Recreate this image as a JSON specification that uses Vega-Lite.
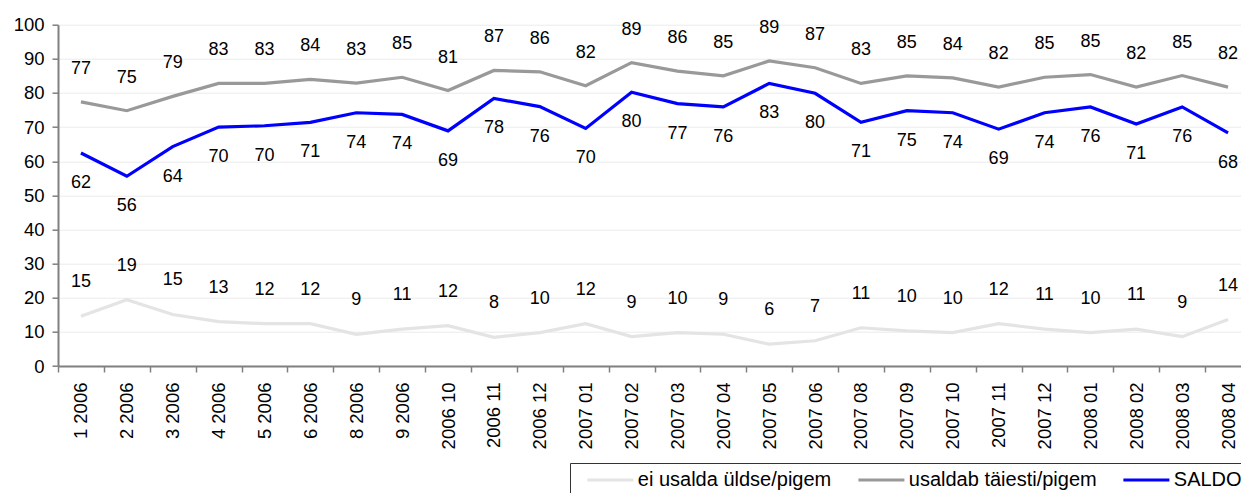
{
  "$schema": "https://vega.github.io/schema/vega-lite/v6.json",
  "width": 1183,
  "height": 341.3,
  "autosize": {"type": "none"},
  "padding": {"left": 58, "top": 24.7, "right": 0, "bottom": 127},
  "background": "white",
  "config": {
    "font": "Liberation Sans",
    "view": {"stroke": null},
    "text": {"font": "Liberation Sans", "fontSize": 18, "color": "#000000", "baseline": "middle", "align": "center"}
  },
  "data": {
    "values": [
      {"period": "1 2006", "ei usalda üldse/pigem": 14.6, "usaldab täiesti/pigem": 77.4, "SALDO": 62.4},
      {"period": "2 2006", "ei usalda üldse/pigem": 19.4, "usaldab täiesti/pigem": 74.8, "SALDO": 55.6},
      {"period": "3 2006", "ei usalda üldse/pigem": 15.1, "usaldab täiesti/pigem": 79.0, "SALDO": 64.3},
      {"period": "4 2006", "ei usalda üldse/pigem": 13.0, "usaldab täiesti/pigem": 82.8, "SALDO": 70.0},
      {"period": "5 2006", "ei usalda üldse/pigem": 12.4, "usaldab täiesti/pigem": 82.8, "SALDO": 70.4},
      {"period": "6 2006", "ei usalda üldse/pigem": 12.4, "usaldab täiesti/pigem": 84.0, "SALDO": 71.4},
      {"period": "8 2006", "ei usalda üldse/pigem": 9.3, "usaldab täiesti/pigem": 82.9, "SALDO": 74.2},
      {"period": "9 2006", "ei usalda üldse/pigem": 10.8, "usaldab täiesti/pigem": 84.6, "SALDO": 73.7},
      {"period": "2006 10", "ei usalda üldse/pigem": 11.8, "usaldab täiesti/pigem": 80.7, "SALDO": 68.9},
      {"period": "2006 11", "ei usalda üldse/pigem": 8.4, "usaldab täiesti/pigem": 86.6, "SALDO": 78.4},
      {"period": "2006 12", "ei usalda üldse/pigem": 9.8, "usaldab täiesti/pigem": 86.2, "SALDO": 76.0},
      {"period": "2007 01", "ei usalda üldse/pigem": 12.4, "usaldab täiesti/pigem": 82.1, "SALDO": 69.6},
      {"period": "2007 02", "ei usalda üldse/pigem": 8.6, "usaldab täiesti/pigem": 88.9, "SALDO": 80.2},
      {"period": "2007 03", "ei usalda üldse/pigem": 9.8, "usaldab täiesti/pigem": 86.4, "SALDO": 76.9},
      {"period": "2007 04", "ei usalda üldse/pigem": 9.3, "usaldab täiesti/pigem": 85.0, "SALDO": 75.9},
      {"period": "2007 05", "ei usalda üldse/pigem": 6.4, "usaldab täiesti/pigem": 89.4, "SALDO": 82.8},
      {"period": "2007 06", "ei usalda üldse/pigem": 7.4, "usaldab täiesti/pigem": 87.4, "SALDO": 79.9},
      {"period": "2007 08", "ei usalda üldse/pigem": 11.2, "usaldab täiesti/pigem": 82.8, "SALDO": 71.4},
      {"period": "2007 09", "ei usalda üldse/pigem": 10.3, "usaldab täiesti/pigem": 85.0, "SALDO": 74.8},
      {"period": "2007 10", "ei usalda üldse/pigem": 9.8, "usaldab täiesti/pigem": 84.4, "SALDO": 74.2},
      {"period": "2007 11", "ei usalda üldse/pigem": 12.4, "usaldab täiesti/pigem": 81.7, "SALDO": 69.4},
      {"period": "2007 12", "ei usalda üldse/pigem": 10.8, "usaldab täiesti/pigem": 84.6, "SALDO": 74.2},
      {"period": "2008 01", "ei usalda üldse/pigem": 9.8, "usaldab täiesti/pigem": 85.4, "SALDO": 75.9},
      {"period": "2008 02", "ei usalda üldse/pigem": 10.8, "usaldab täiesti/pigem": 81.7, "SALDO": 70.9},
      {"period": "2008 03", "ei usalda üldse/pigem": 8.6, "usaldab täiesti/pigem": 85.1, "SALDO": 75.9},
      {"period": "2008 04", "ei usalda üldse/pigem": 13.6, "usaldab täiesti/pigem": 81.7, "SALDO": 68.3}
    ]
  },
  "transform": [
    {"fold": ["ei usalda üldse/pigem", "usaldab täiesti/pigem", "SALDO"], "as": ["series", "value"]}
  ],
  "encoding": {
    "x": {
      "field": "period",
      "type": "ordinal",
      "sort": null,
      "bandPosition": 0.5,
      "scale": {"type": "band", "paddingInner": 0, "paddingOuter": 0, "range": [0, 1193]},
      "axis": {
        "title": null,
        "labelAngle": -90,
        "labelAlign": "right",
        "labelBaseline": "middle",
        "labelFontSize": 18.5,
        "labelFont": "Liberation Sans",
        "labelColor": "#000000",
        "labelPadding": 10,
        "labelOverlap": false,
        "tickBand": "extent",
        "tickSize": 6,
        "tickColor": "#808080",
        "tickWidth": 1.5,
        "domainColor": "#808080",
        "domainWidth": 2,
        "grid": false
      }
    },
    "y": {
      "field": "value",
      "type": "quantitative",
      "scale": {"domain": [0, 100], "nice": false, "zero": true},
      "axis": {
        "title": null,
        "values": [0, 10, 20, 30, 40, 50, 60, 70, 80, 90, 100],
        "labelFontSize": 18.5,
        "labelFont": "Liberation Sans",
        "labelColor": "#000000",
        "labelPadding": 8,
        "tickSize": 6,
        "tickColor": "#808080",
        "tickWidth": 1.5,
        "domainColor": "#808080",
        "domainWidth": 2,
        "grid": true,
        "gridColor": "#ebebeb",
        "gridWidth": 1
      }
    }
  },
  "layer": [
    {
      "mark": {"type": "line", "strokeWidth": 3.2},
      "encoding": {
        "order": {"value": null},
        "color": {
          "field": "series",
          "type": "nominal",
          "scale": {
            "domain": ["ei usalda üldse/pigem", "usaldab täiesti/pigem", "SALDO"],
            "range": ["#e4e4e4", "#999999", "#0000ff"]
          },
          "legend": {
            "title": null,
            "orient": "none",
            "legendX": 512,
            "legendY": 438.3,
            "direction": "horizontal",
            "strokeColor": "#333333",
            "fillColor": "#ffffff",
            "padding": 5,
            "symbolType": "M-2.3,0H2.3",
            "symbolSize": 400,
            "symbolStrokeWidth": 3.2,
            "symbolOffset": 23.4,
            "labelOffset": 15.4,
            "columnPadding": 14,
            "labelFontSize": 20,
            "labelFont": "Liberation Sans",
            "labelColor": "#000000",
            "labelLimit": 400
          }
        }
      }
    },
    {
      "transform": [{"filter": "datum.series === 'ei usalda üldse/pigem'"}],
      "mark": {"type": "text", "dy": -34},
      "encoding": {"text": {"field": "value", "type": "quantitative", "format": ".0f"}}
    },
    {
      "transform": [{"filter": "datum.series === 'usaldab täiesti/pigem'"}],
      "mark": {"type": "text", "dy": -33},
      "encoding": {"text": {"field": "value", "type": "quantitative", "format": ".0f"}}
    },
    {
      "transform": [{"filter": "datum.series === 'SALDO'"}],
      "mark": {"type": "text", "dy": 30},
      "encoding": {"text": {"field": "value", "type": "quantitative", "format": ".0f"}}
    }
  ]
}
